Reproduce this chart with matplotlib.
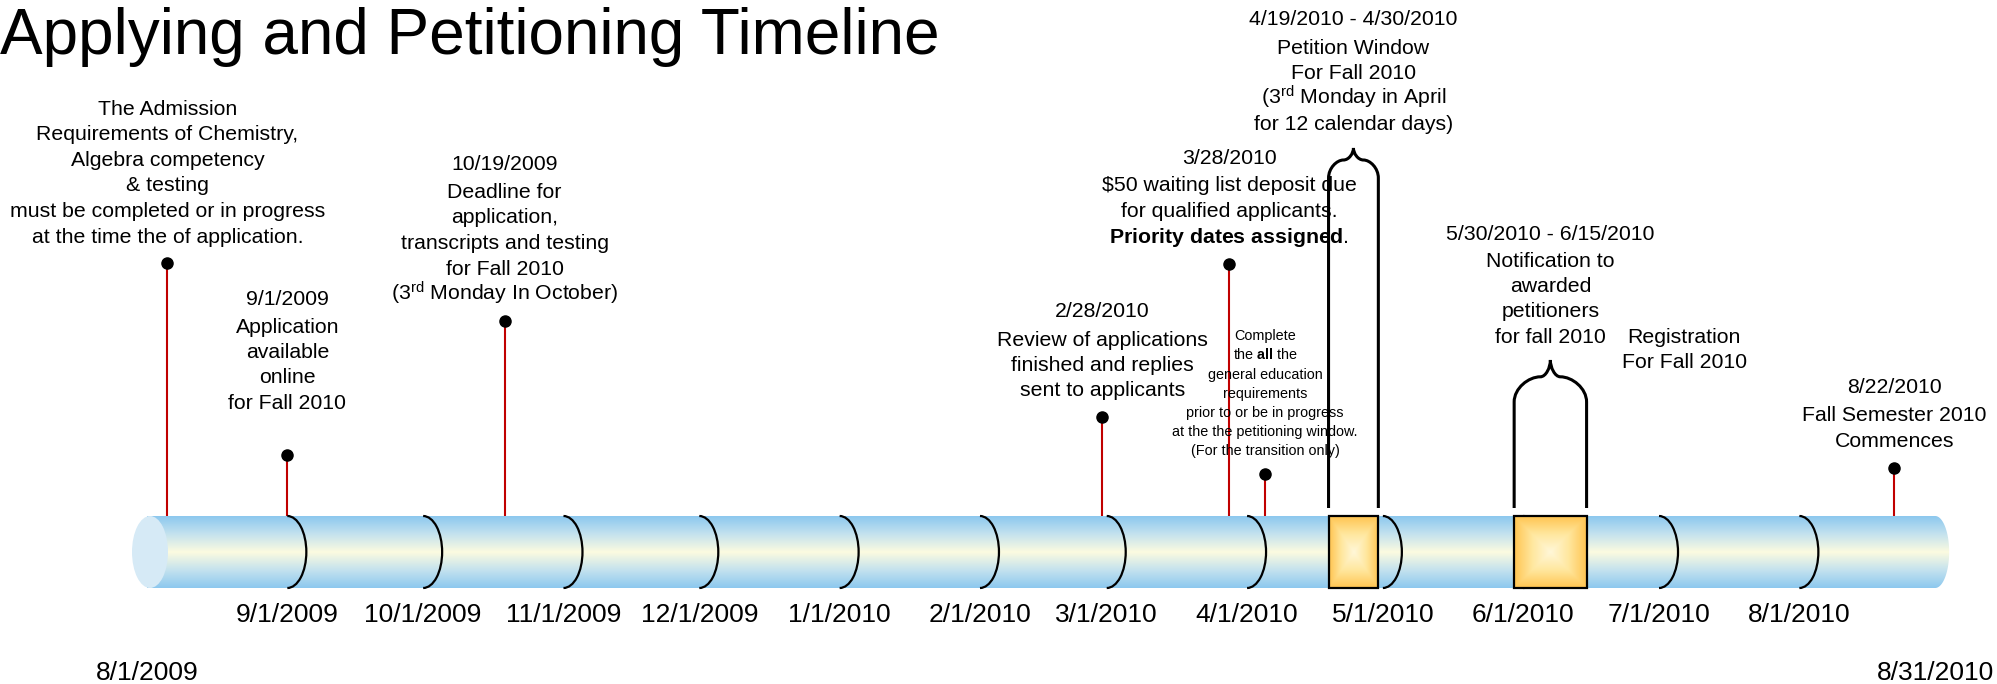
import numpy as np
import matplotlib
matplotlib.use("Agg")
import matplotlib.pyplot as plt
import matplotlib.dates as mdates
from matplotlib.path import Path
from matplotlib.patches import PathPatch, Ellipse, Arc, Rectangle
from matplotlib.colors import LinearSegmentedColormap

plt.rcParams['font.family'] = ['Liberation Sans', 'DejaVu Sans']
plt.rcParams['mathtext.fontset'] = 'custom'
plt.rcParams['mathtext.rm'] = 'Liberation Sans'
plt.rcParams['mathtext.bf'] = 'Liberation Sans:bold'
plt.rcParams['mathtext.it'] = 'Liberation Sans:italic'
plt.rcParams['mathtext.default'] = 'rm'

# ---------------- data ----------------
TITLE = "Applying and Petitioning Timeline"
TIMELINE_START = "2009-08-01"
TIMELINE_END = "2010-08-31"
END_LABELS = ["8/1/2009", "8/31/2010"]

MONTH_STARTS = ["2009-09-01", "2009-10-01", "2009-11-01", "2009-12-01",
                "2010-01-01", "2010-02-01", "2010-03-01", "2010-04-01",
                "2010-05-01", "2010-06-01", "2010-07-01", "2010-08-01"]
MONTH_LABELS = ["9/1/2009", "10/1/2009", "11/1/2009", "12/1/2009",
                "1/1/2010", "2/1/2010", "3/1/2010", "4/1/2010",
                "5/1/2010", "6/1/2010", "7/1/2010", "8/1/2010"]

EVENT_DATES = ["2009-08-05 12:00", "2009-09-01", "2009-10-19", "2010-02-28",
               "2010-03-28", "2010-04-05", "2010-08-22"]
EVENT_TEXTS = [
    ["The Admission", "Requirements of Chemistry,", "Algebra competency",
     "& testing", "must be completed or in progress",
     "at the time the of application."],
    ["9/1/2009", "Application", "available", "online", "for Fall 2010"],
    ["10/19/2009", "Deadline for", "application,", "transcripts and testing",
     "for Fall 2010", r"(3$^{\mathrm{rd}}$ Monday In October)"],
    ["2/28/2010", "Review of applications", "finished and replies",
     "sent to applicants"],
    ["3/28/2010", "$50 waiting list deposit due", "for qualified applicants.",
     r"$\mathbf{Priority\ dates\ assigned}$."],
    ["Complete", r"the $\mathbf{all}$ the", "general education",
     "requirements", "prior to or be in progress",
     "at the the petitioning window.", "(For the transition only)"],
    ["8/22/2010", "Fall Semester 2010", "Commences"],
]

RANGE_STARTS = ["2010-04-19", "2010-05-30"]
RANGE_ENDS = ["2010-04-30", "2010-06-15"]
RANGE_TEXTS = [
    ["4/19/2010 - 4/30/2010", "Petition Window", "For Fall 2010",
     r"(3$^{\mathrm{rd}}$ Monday in April", "for 12 calendar days)"],
    ["5/30/2010 - 6/15/2010", "Notification to", "awarded", "petitioners",
     "for fall 2010"],
]

FREE_TEXT = ["Registration", "For Fall 2010"]

# ---------------- layout (pixels) ----------------
W, H, DPI = 1997, 684, 100
PPD = 4.527          # pixels per day
X0PX = 147           # pixel position of timeline start
TUBE_TOP, TUBE_BOT = 516, 588
TUBE_MID = (TUBE_TOP + TUBE_BOT) / 2

EVENT_DOT_Y = [263, 455, 321, 417, 264, 474, 468]
EVENT_TEXT_Y0 = [107, 297, 162, 309, 156, 335, 385]
EVENT_SIZE = [15.3, 15.3, 15.3, 15.3, 15.3, 10.4, 15.3]
EVENT_GAP1 = [25.6, 28, 28, 29, 27, 19.2, 28]
EVENT_GAP = [25.6, 25.4, 25.7, 25, 26, 19.2, 26]

RANGE_SHOULDER_Y = [178, 402]
RANGE_PEAK_Y = [148, 360]
RANGE_TEXT_Y0 = [17, 232]
BRACE_BOTTOM = 508

FREE_X_PX, FREE_Y0 = 1684, 335

# ---------------- figure ----------------
fig = plt.figure(figsize=(W / DPI, H / DPI), dpi=DPI)
ax = fig.add_axes([0, 0, 1, 1])
d0 = mdates.datestr2num(TIMELINE_START)
d1 = mdates.datestr2num(TIMELINE_END)
x_left = d0 - X0PX / PPD
x_right = x_left + W / PPD
ax.set_xlim(x_left, x_right)
ax.set_ylim(H, 0)
ax.axis('off')


def px2x(px):
    return x_left + px / PPD


def draw_lines(x, y0, lines, size, gap1, gap, weight='normal'):
    y = y0
    off = 0.358 * size * DPI / 72.0
    for i, line in enumerate(lines):
        ax.text(x, y + off, line, ha='center', va='baseline', fontsize=size,
                color='black', zorder=6, fontweight=weight)
        y += gap1 if i == 0 else gap


# tube
tube_cmap = LinearSegmentedColormap.from_list(
    'tube', ['#8cc8ef', '#c4e2ee', '#fcfbe0', '#c4e2ee', '#8cc8ef'])
cap_rx = 14 / PPD
grad = np.linspace(0, 1, 256)[:, None]
im = ax.imshow(grad, extent=(d0, d1 + cap_rx, TUBE_BOT, TUBE_TOP),
               aspect='auto', cmap=tube_cmap, zorder=1, interpolation='bilinear')
t = np.linspace(-np.pi / 2, np.pi / 2, 60)
verts = [(d0, TUBE_TOP), (d1, TUBE_TOP)]
verts += list(zip(d1 + cap_rx * np.cos(t), TUBE_MID + 36 * np.sin(t)))
verts += [(d1, TUBE_BOT), (d0, TUBE_BOT), (d0, TUBE_TOP)]
clip = PathPatch(Path(verts), facecolor='none', edgecolor='none')
ax.add_patch(clip)
im.set_clip_path(clip)
ax.add_patch(Ellipse((d0 + 3 / PPD, TUBE_MID), width=36 / PPD, height=72,
                     facecolor='#d6eaf6', edgecolor='none', zorder=2))

# month separators and labels
for ds, lab in zip(MONTH_STARTS, MONTH_LABELS):
    x = mdates.datestr2num(ds)
    ax.add_patch(Arc((x, TUBE_MID), width=2 * 19 / PPD, height=72,
                     theta1=-90, theta2=90, color='black', lw=1.6, zorder=4))
    ax.text(x, 622, lab, ha='center', va='baseline', fontsize=19, zorder=6)
for ds, lab in zip([TIMELINE_START, TIMELINE_END], END_LABELS):
    ax.text(mdates.datestr2num(ds), 680, lab, ha='center', va='baseline',
            fontsize=19, zorder=6)

# range boxes with braces
box_cmap = LinearSegmentedColormap.from_list('box', ['#fff7d8', '#ffe79e', '#ffc451'])
uu, vv = np.meshgrid(np.linspace(-1, 1, 200), np.linspace(-1, 1, 200))
box_grad = np.maximum(np.abs(uu), np.abs(vv))
for i, (s, e) in enumerate(zip(RANGE_STARTS, RANGE_ENDS)):
    xs_, xe_ = mdates.datestr2num(s), mdates.datestr2num(e)
    ax.imshow(box_grad, extent=(xs_, xe_, TUBE_BOT, TUBE_TOP), aspect='auto',
              cmap=box_cmap, zorder=5, interpolation='bilinear')
    ax.add_patch(Rectangle((xs_, TUBE_TOP), xe_ - xs_, TUBE_BOT - TUBE_TOP,
                           facecolor='none', edgecolor='black', lw=1.6, zorder=6))
    # brace
    ys = RANGE_SHOULDER_Y[i]
    yp = RANGE_PEAK_Y[i]
    ym = yp + 0.4 * (ys - yp)
    xc = (xs_ + xe_) / 2
    pw = 10 / PPD
    sl, sr = xc - pw, xc + pw
    v = [(xs_, BRACE_BOTTOM), (xs_, ys),
         (xs_, ys - 0.55 * (ys - ym)), (xs_ + 0.55 * (sl - xs_), ym), (sl, ym),
         (sl + 0.55 * (xc - sl), ym), (xc, ym - 0.55 * (ym - yp)), (xc, yp),
         (xc, ym - 0.55 * (ym - yp)), (sr - 0.55 * (sr - xc), ym), (sr, ym),
         (xe_ - 0.55 * (xe_ - sr), ym), (xe_, ys - 0.55 * (ys - ym)), (xe_, ys),
         (xe_, BRACE_BOTTOM)]
    codes = [Path.MOVETO, Path.LINETO] + [Path.CURVE4] * 12 + [Path.LINETO]
    ax.add_patch(PathPatch(Path(v, codes), facecolor='none', edgecolor='black',
                           lw=2.2, zorder=7, capstyle='butt'))
    draw_lines(xc, RANGE_TEXT_Y0[i], RANGE_TEXTS[i], 15.3, 29 if i == 0 else 27,
               25.3)

# events
for i, ds in enumerate(EVENT_DATES):
    x = mdates.datestr2num(ds)
    ax.plot([x, x], [EVENT_DOT_Y[i], TUBE_TOP], color='#c00000', lw=1.5,
            zorder=3, solid_capstyle='butt')
    ax.plot([x], [EVENT_DOT_Y[i]], 'o', color='black', ms=8, zorder=8)
    draw_lines(x, EVENT_TEXT_Y0[i], EVENT_TEXTS[i], EVENT_SIZE[i],
               EVENT_GAP1[i], EVENT_GAP[i])

draw_lines(px2x(FREE_X_PX), FREE_Y0, FREE_TEXT, 15.3, 25, 25)

ax.text(px2x(0), 54, TITLE, ha='left', va='baseline', fontsize=46, zorder=6)

fig.savefig('out.png', dpi=DPI)
